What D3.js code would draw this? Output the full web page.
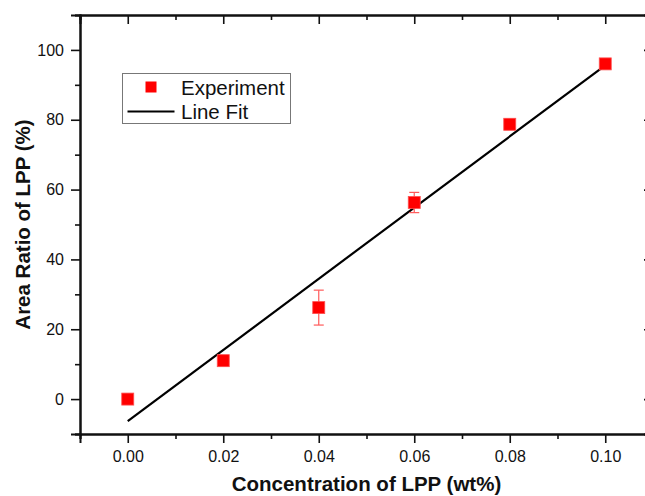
<!DOCTYPE html>
<html>
<head>
<meta charset="utf-8">
<script src="https://cdn.jsdelivr.net/npm/d3@7"></script>
<style>
  body { margin: 0; background: #fff; }
  svg { display: block; font-family: "Liberation Sans", Arial, sans-serif; }
  .axis path, .axis line { stroke: #111; }
  .axis text { font-size: 16px; fill: #111; }
</style>
</head>
<body>
<svg id="chart" width="645" height="496"></svg>
<script>
// concentration of LPP (wt%) and measured area ratio (%)
var conc = [0, 0.02, 0.04, 0.06, 0.08, 0.10];
var ratio = [0, 11, 26.2, 56.3, 78.7, 96.0];
var ratioErr = [0.5, 1.5, 5.0, 2.9, 1.5, 1.2];

// fitted line endpoints
var fitX = [0, 0.10];
var fitY = [-6.3, 95.6];

var xMajor = [0, 0.02, 0.04, 0.06, 0.08, 0.10];
var xMinor = [-0.01, 0.01, 0.03, 0.05, 0.07, 0.09, 0.11];
var yMajor = [0, 20, 40, 60, 80, 100];
var yMinor = [-10, 10, 30, 50, 70, 90, 110];

var svg = d3.select("#chart");
var x0 = 80, x1 = 653, yTop = 15, yBot = 434;

var x = d3.scaleLinear().domain([-0.01, 0.11]).range([x0, x1]);
var y = d3.scaleLinear().domain([-10, 110]).range([yBot, yTop]);

function styleAxis(g) {
    g.attr("class", "axis");
    g.select(".domain").attr("stroke-width", 2);
    g.selectAll(".tick line").attr("stroke-width", 1.6);
}

// bottom
svg.append("g").attr("transform", "translate(0," + yBot + ")")
    .call(d3.axisBottom(x).tickValues(xMinor).tickSize(5).tickFormat(""))
    .call(styleAxis);
svg.append("g").attr("transform", "translate(0," + yBot + ")")
    .call(d3.axisBottom(x).tickValues(xMajor).tickSize(9).tickPadding(8).tickFormat(d3.format(".2f")))
    .call(styleAxis);
// top (inward, no labels)
svg.append("g").attr("transform", "translate(0," + yTop + ")")
    .call(d3.axisTop(x).tickValues(xMinor).tickSize(-5).tickFormat(""))
    .call(styleAxis);
svg.append("g").attr("transform", "translate(0," + yTop + ")")
    .call(d3.axisTop(x).tickValues(xMajor).tickSize(-9).tickFormat(""))
    .call(styleAxis);
// left
svg.append("g").attr("transform", "translate(" + x0 + ",0)")
    .call(d3.axisLeft(y).tickValues(yMinor).tickSize(5).tickFormat(""))
    .call(styleAxis);
svg.append("g").attr("transform", "translate(" + x0 + ",0)")
    .call(d3.axisLeft(y).tickValues(yMajor).tickSize(9).tickPadding(7).tickFormat(d3.format("d")))
    .call(styleAxis);
// right (inward)
svg.append("g").attr("transform", "translate(" + x1 + ",0)")
    .call(d3.axisRight(y).tickValues(yMinor).tickSize(-5).tickFormat(""))
    .call(styleAxis);
svg.append("g").attr("transform", "translate(" + x1 + ",0)")
    .call(d3.axisRight(y).tickValues(yMajor).tickSize(-9).tickFormat(""))
    .call(styleAxis);

// axis titles
svg.append("text")
    .attr("x", (x0 + x1) / 2).attr("y", 491)
    .attr("text-anchor", "middle")
    .style("font-size", "20.5px").style("font-weight", "bold").attr("fill", "#111")
    .text("Concentration of LPP (wt%)");

svg.append("text")
    .attr("transform", "translate(30," + ((yTop + yBot) / 2) + ") rotate(-90)")
    .attr("text-anchor", "middle")
    .style("font-size", "20.5px").style("font-weight", "bold").attr("fill", "#111")
    .text("Area Ratio of LPP (%)");

// fit line
var line = d3.line().x(function(d) { return x(d[0]); }).y(function(d) { return y(d[1]); });
svg.append("path")
    .datum(d3.zip(fitX, fitY))
    .attr("d", line)
    .attr("fill", "none").attr("stroke", "#000").attr("stroke-width", 2.2);

// error bars + markers
var pts = conc.map(function(c, i) { return {x: c, y: ratio[i], e: ratioErr[i]}; });
var cap = 5, ms = 12;

var eb = svg.append("g").attr("stroke", "#ff5a5a").attr("stroke-width", 1.2);
pts.forEach(function(d) {
    eb.append("line").attr("x1", x(d.x)).attr("x2", x(d.x))
        .attr("y1", y(d.y + d.e)).attr("y2", y(d.y - d.e));
    eb.append("line").attr("x1", x(d.x) - cap).attr("x2", x(d.x) + cap)
        .attr("y1", y(d.y + d.e)).attr("y2", y(d.y + d.e));
    eb.append("line").attr("x1", x(d.x) - cap).attr("x2", x(d.x) + cap)
        .attr("y1", y(d.y - d.e)).attr("y2", y(d.y - d.e));
});

svg.append("g").selectAll("rect")
    .data(pts).enter()
    .append("rect")
    .attr("x", function(d) { return x(d.x) - ms / 2; })
    .attr("y", function(d) { return y(d.y) - ms / 2; })
    .attr("width", ms).attr("height", ms)
    .attr("fill", "#ff0000").attr("stroke", "#ff5050").attr("stroke-width", 0.8);

// legend
var lg = svg.append("g");
lg.append("rect").attr("x", 122.5).attr("y", 73.5).attr("width", 168).attr("height", 50)
    .attr("fill", "#fff").attr("stroke", "#777").attr("stroke-width", 1);
lg.append("rect").attr("x", 151 - 5.5).attr("y", 87 - 5.5).attr("width", 11).attr("height", 11)
    .attr("fill", "#ff0000");
lg.append("line").attr("x1", 127.5).attr("x2", 174.5).attr("y1", 111.5).attr("y2", 111.5)
    .attr("stroke", "#000").attr("stroke-width", 2);
lg.append("text").attr("x", 181).attr("y", 95).style("font-size", "20.5px").attr("fill", "#111")
    .text("Experiment");
lg.append("text").attr("x", 181).attr("y", 119).style("font-size", "20.5px").attr("fill", "#111")
    .text("Line Fit");
</script>
</body>
</html>
